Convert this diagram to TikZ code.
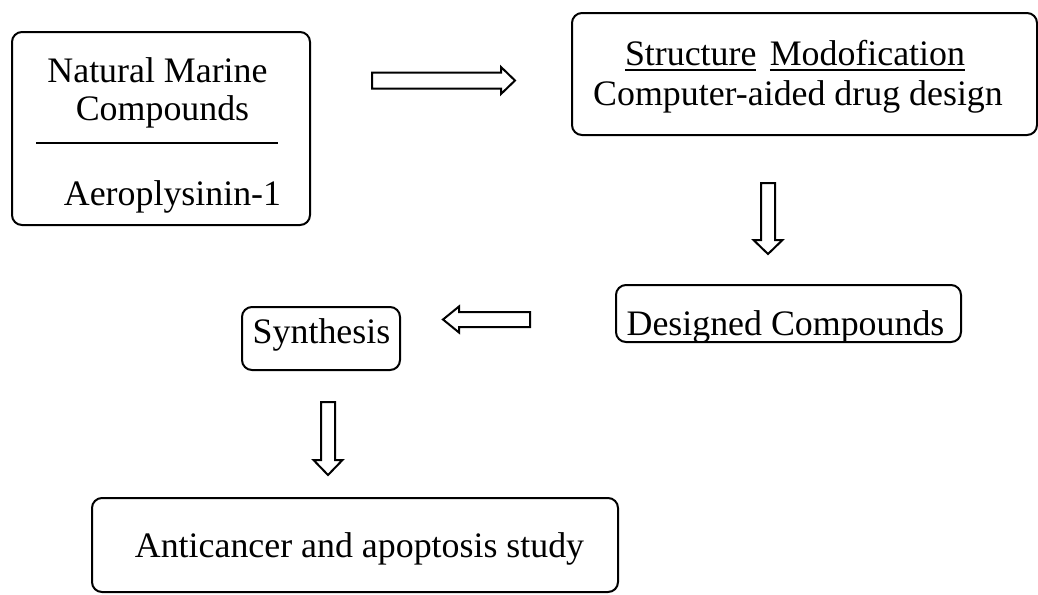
\documentclass[tikz,border=0pt]{standalone}
\usepackage{fontspec}
\setmainfont{Liberation Serif}
\usetikzlibrary{calc}
\begin{document}
\begin{tikzpicture}[x=0.75pt,y=-0.75pt,
  boxline/.style={draw=black,line width=1.5pt,rounded corners=7.5pt},
  txt/.style={inner sep=0pt,outer sep=0pt,anchor=base,font=\fontsize{26.9}{30}\selectfont},
  blockarrow/.style={draw=black,line width=1.5pt,fill=white,line join=miter}]
\useasboundingbox (0,0) rectangle (1038,594);
% boxes
\draw[boxline] (12,32) rectangle (310,225);
\node[inner sep=0pt] (b1) at (161,128.5) {};
\draw[boxline] (572,13) rectangle (1037,135);
\node[inner sep=0pt] (b2) at (804.5,74) {};
\draw[boxline] (616,285) rectangle (961,342);
\node[inner sep=0pt] (b3) at (788.5,313.5) {};
\draw[boxline] (242,307) rectangle (400,370);
\node[inner sep=0pt] (b4) at (321,338.5) {};
\draw[boxline] (92,498) rectangle (618,592);
\node[inner sep=0pt] (b5) at (355,545) {};
% texts box 1
\node[txt] (nm) at (157.5,82) {Natural Marine};
\node[txt] (cp) at (162.5,120) {Compounds};
\coordinate (r1) at (36,143);
\coordinate (r2) at (278,143);
\draw[line width=1.5pt] (r1) -- (r2);
\node[txt] (ae) at (172.5,205) {Aeroplysinin-1};
% texts box 2
\node[txt,anchor=base west] (st) at (625,65) {Structure};
\node[txt,anchor=base east] (mo) at (965,65) {Modofication};
\draw[line width=1.2pt] ($(st.base west)+(0,5)$) -- ($(st.base east)+(0,5)$);
\draw[line width=1.2pt] ($(mo.base west)+(0,5)$) -- ($(mo.base east)+(0,5)$);
\node[txt] (ca) at (798,105) {Computer-aided drug design};
% box 3
\node[txt] (dc) at (785.5,335) {Designed Compounds};
% synthesis
\node[txt] (sy) at (321.5,343) {Synthesis};
% box 5
\node[txt] (an) at (359.5,557) {Anticancer and apoptosis study};
% arrows
\coordinate (a1s) at (372,80.5);
\coordinate (a1e) at (515,80.5);
\draw[blockarrow] ($(a1s)+(0,-8)$) -- ($(a1e)+(-14,-8)$) -- ($(a1e)+(-14,-13.5)$) -- (a1e)
  -- ($(a1e)+(-14,13.5)$) -- ($(a1e)+(-14,8)$) -- ($(a1s)+(0,8)$) -- cycle;
\coordinate (a2s) at (768,183);
\coordinate (a2e) at (768,254);
\draw[blockarrow] ($(a2s)+(-7,0)$) -- ($(a2e)+(-7,-14)$) -- ($(a2e)+(-14.5,-14)$) -- (a2e)
  -- ($(a2e)+(14.5,-14)$) -- ($(a2e)+(7,-14)$) -- ($(a2s)+(7,0)$) -- cycle;
\coordinate (a3s) at (530,319.5);
\coordinate (a3e) at (443,319.5);
\draw[blockarrow] ($(a3s)+(0,-7.5)$) -- ($(a3e)+(16,-7.5)$) -- ($(a3e)+(16,-13)$) -- (a3e)
  -- ($(a3e)+(16,13)$) -- ($(a3e)+(16,7.5)$) -- ($(a3s)+(0,7.5)$) -- cycle;
\coordinate (a4s) at (328,402);
\coordinate (a4e) at (328,475);
\draw[blockarrow] ($(a4s)+(-7,0)$) -- ($(a4e)+(-7,-15)$) -- ($(a4e)+(-14.5,-15)$) -- (a4e)
  -- ($(a4e)+(14.5,-15)$) -- ($(a4e)+(7,-15)$) -- ($(a4s)+(7,0)$) -- cycle;
\end{tikzpicture}
\end{document}
